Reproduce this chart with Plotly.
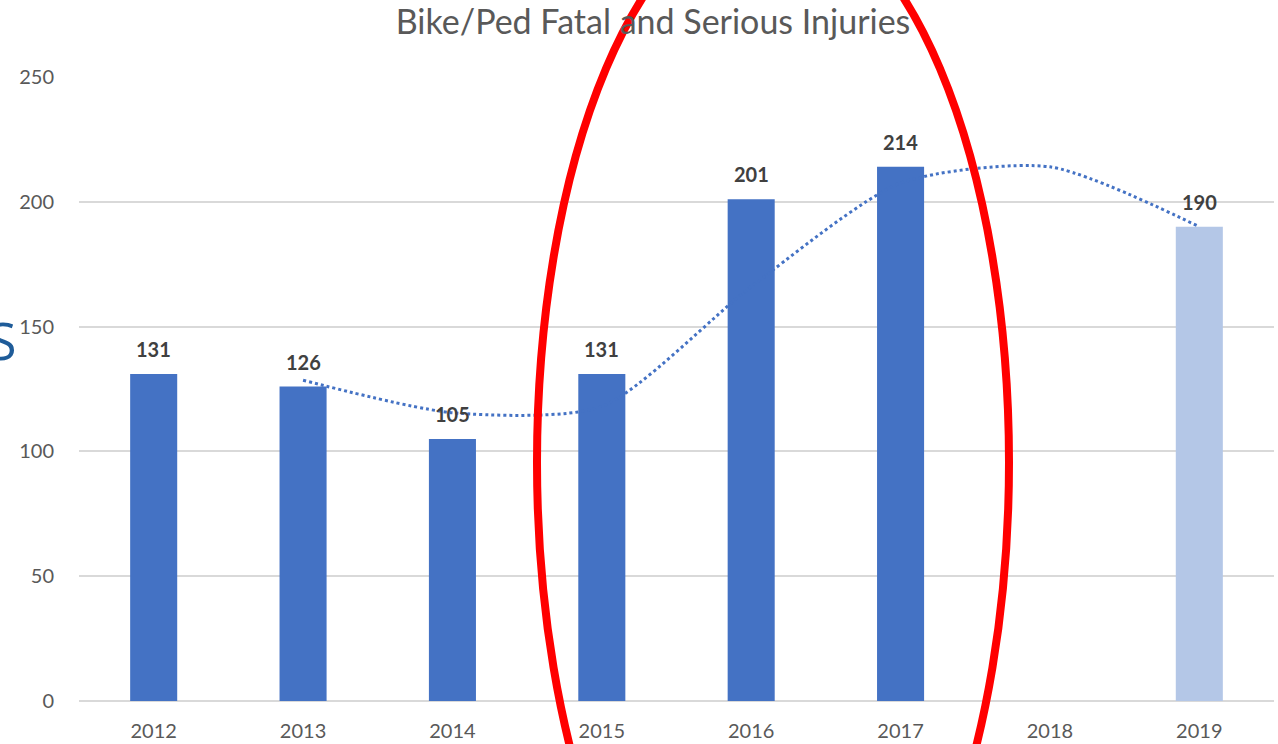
import plotly.graph_objects as go

years = ["2012", "2013", "2014", "2015", "2016", "2017", "2018", "2019"]
injuries = [131, 126, 105, 131, 201, 214, None, 190]
bar_colors = ["#4472C4"] * 7 + ["#B4C7E7"]
trend = [None, 128.5, 115.5, 118, 166, 207.5, 214, 190]
y_ticks = [0, 50, 100, 150, 200, 250]

FONT = "Lato"

fig = go.Figure()
fig.add_trace(go.Bar(
    x=years, y=injuries, marker=dict(color=bar_colors, line=dict(width=0)),
    width=0.315, showlegend=False, hoverinfo="skip",
))
fig.add_trace(go.Scatter(
    x=years, y=trend, mode="lines",
    line=dict(color="#4472C4", width=3, dash="dot", shape="spline", smoothing=0.7),
    connectgaps=False, showlegend=False, hoverinfo="skip",
))

for i, v in enumerate(injuries):
    if v is None:
        continue
    fig.add_annotation(
        x=i, y=v, yshift=25, text=f"<b>{v}</b>", showarrow=False,
        font=dict(family=FONT, size=20, color="#404040"),
    )

fig.update_layout(
    width=1278, height=744,
    margin=dict(l=79, r=4, t=77, b=43, autoexpand=False),
    paper_bgcolor="white", plot_bgcolor="white",
    title=dict(
        text="Bike/Ped Fatal and Serious Injuries",
        x=0.511, xanchor="center", y=0.97, yanchor="middle",
        font=dict(family=FONT, size=34, color="#595959"),
    ),
    xaxis=dict(
        type="category", showgrid=False, zeroline=False, showline=False,
        ticks="outside", ticklen=12, tickcolor="rgba(0,0,0,0)", automargin=False,
        tickfont=dict(family=FONT, size=20, color="#595959"),
    ),
    yaxis=dict(
        range=[0, 250], tickvals=y_ticks, showgrid=True, gridcolor="#D9D9D9",
        gridwidth=1.5, zeroline=True, zerolinecolor="#D9D9D9", zerolinewidth=1.5,
        showline=False, ticks="outside", ticklen=20, tickcolor="rgba(0,0,0,0)",
        automargin=False,
        tickfont=dict(family=FONT, size=20, color="#595959"),
    ),
    font=dict(family=FONT),
)

# red ellipse highlight (overlay)
W, H = 1278, 744
l, r, t, b = 79, 4, 77, 43
pw, ph = W - l - r, H - t - b
def px(xp):
    return (xp - l) / pw
def py(yp):
    return 1 - (yp - t) / ph
fig.add_shape(
    type="circle", xref="paper", yref="paper",
    x0=px(537), x1=px(1009), y0=py(1020), y1=py(-95),
    line=dict(color="#FF0000", width=8), layer="above",
)

# clipped slide text at left edge
fig.add_annotation(
    xref="paper", yref="paper", x=px(19), y=py(339), xanchor="right", yanchor="middle",
    text="S", showarrow=False, font=dict(family="Open Sans", size=52, color="#1F5C99"),
)

fig.write_html(
    "out.html",
    config={"displayModeBar": False},
    post_script="document.body.style.margin='0';document.body.style.overflow='hidden';",
)
